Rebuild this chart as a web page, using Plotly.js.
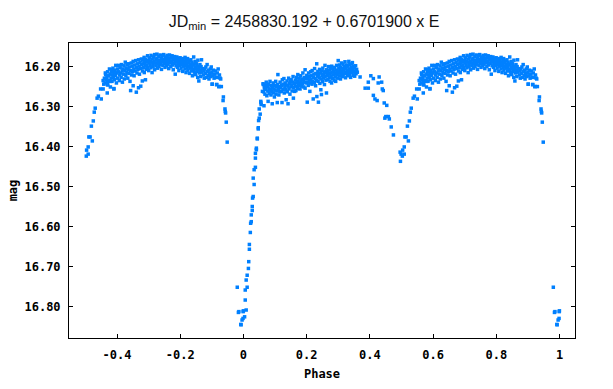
<!DOCTYPE html>
<html>
<head>
<meta charset="utf-8">
<script src="https://cdn.plot.ly/plotly-3.0.1.min.js"></script>
<style>
html,body{margin:0;padding:0;background:#fff;}
#chart{width:613px;height:389px;}
</style>
</head>
<body>
<div id="chart"></div>
<script>
// Phased observations [phase, mag], phase stored in 0..1
const primaryMin = [
[0.9804,16.751],[0.9855,16.812],[0.9840,16.814],[0.9915,16.844],[0.9925,16.845],[0.9956,16.833],[0.9986,16.829],[0.9997,16.810],[0.9990,16.812],
[0.0036,16.825],[0.0086,16.808],[0.0056,16.783],[0.0056,16.758],[0.0117,16.751],[0.0086,16.733],[0.0117,16.721],[0.0157,16.704],[0.0167,16.687],
[0.0187,16.656],[0.0187,16.644],[0.0217,16.614],[0.0227,16.591],[0.0247,16.587],[0.0247,16.570],[0.0278,16.559],[0.0278,16.549],[0.0288,16.528],
[0.0308,16.524],[0.0338,16.494],[0.0308,16.478],[0.0338,16.457],[0.0378,16.451],[0.0378,16.428],[0.0378,16.416],[0.0408,16.407],[0.0408,16.403],
[0.0438,16.380],[0.0438,16.378],[0.0469,16.355],[0.0469,16.352],[0.0479,16.334],[0.0499,16.328],[0.0529,16.318],[0.0499,16.305],[0.0559,16.294],
[0.0549,16.289],[0.0549,16.286],[0.0650,16.297],[0.0600,16.261],[0.0630,16.244],[0.0670,16.253]
];
const maxOne = [
[0.062,16.242],[0.064,16.262],[0.066,16.250],[0.068,16.268],[0.069,16.245],[0.071,16.256],[0.072,16.238],[0.074,16.272],[0.075,16.250],[0.077,16.260],
[0.078,16.249],[0.078,16.286],[0.080,16.243],[0.081,16.266],[0.083,16.255],[0.084,16.236],[0.086,16.258],[0.087,16.270],[0.089,16.247],[0.090,16.262],
[0.091,16.292],[0.092,16.252],[0.094,16.240],[0.095,16.265],[0.096,16.255],[0.098,16.275],[0.099,16.246],[0.100,16.258],[0.102,16.236],[0.103,16.268],
[0.104,16.250],[0.106,16.260],[0.107,16.289],[0.108,16.244],[0.109,16.219],[0.111,16.255],[0.112,16.270],[0.113,16.249],[0.115,16.262],[0.116,16.238],
[0.118,16.252],[0.120,16.261],[0.121,16.246],[0.122,16.289],[0.123,16.232],[0.125,16.256],[0.126,16.243],[0.128,16.229],[0.129,16.265],[0.131,16.250],
[0.132,16.240],[0.134,16.257],[0.135,16.282],[0.136,16.245],[0.138,16.235],[0.139,16.262],[0.141,16.292],[0.141,16.248],[0.143,16.228],[0.144,16.255],
[0.146,16.241],[0.147,16.268],[0.149,16.236],[0.150,16.250],[0.151,16.232],[0.153,16.246],[0.154,16.260],[0.156,16.238],[0.157,16.224],[0.158,16.278],
[0.159,16.252],[0.161,16.242],[0.162,16.261],[0.164,16.233],[0.165,16.248],[0.166,16.259],[0.168,16.226],[0.169,16.240],[0.171,16.254],[0.172,16.219],
[0.173,16.235],[0.175,16.246],[0.176,16.228],[0.178,16.241],[0.179,16.255],[0.181,16.222],[0.182,16.236],[0.184,16.248],[0.185,16.230],[0.187,16.242],
[0.188,16.215],[0.190,16.233],[0.191,16.250],[0.193,16.226],[0.194,16.238],[0.195,16.207],[0.195,16.253],[0.197,16.229],[0.199,16.240],
[0.2004,16.221],[0.2018,16.288],[0.2023,16.238],[0.2041,16.229],[0.2049,16.246],[0.2063,16.215],[0.2078,16.233],[0.2086,16.224],[0.2101,16.261],[0.2109,16.240],
[0.2127,16.212],[0.2138,16.231],[0.2146,16.222],[0.2169,16.243],[0.2174,16.209],[0.2191,16.236],[0.2207,16.280],[0.2213,16.226],[0.2229,16.218],[0.2242,16.239],
[0.2251,16.204],[0.2268,16.229],[0.2283,16.247],[0.2289,16.216],[0.2311,16.233],[0.2318,16.192],[0.2322,16.274],[0.2339,16.223],[0.2354,16.211],[0.2361,16.236],
[0.2372,16.288],[0.2379,16.219],[0.2396,16.227],[0.2408,16.206],[0.2417,16.241],[0.2433,16.215],[0.2449,16.257],[0.2452,16.230],[0.2468,16.269],[0.2471,16.210],
[0.2489,16.222],[0.2503,16.237],[0.2511,16.203],[0.2528,16.219],[0.2537,16.228],[0.2556,16.212],[0.2563,16.244],[0.2579,16.196],[0.2584,16.224],[0.2602,16.215],
[0.2613,16.233],[0.2626,16.265],[0.2631,16.207],[0.2648,16.221],[0.2659,16.213],[0.2672,16.231],[0.2687,16.199],[0.2694,16.218],[0.2713,16.227],[0.2722,16.208],
[0.2738,16.236],[0.2744,16.216],[0.2761,16.203],[0.2772,16.224],[0.2789,16.240],[0.2793,16.198],[0.2808,16.213],[0.2821,16.229],[0.2836,16.206],[0.2842,16.220],
[0.2863,16.211],[0.2868,16.233],[0.2887,16.201],[0.2896,16.217],[0.2911,16.225],[0.2918,16.236],[0.2932,16.208],[0.2947,16.196],[0.2958,16.219],[0.2971,16.212],
[0.2984,16.228],[0.2998,16.184],[0.3006,16.214],[0.3017,16.203],[0.3031,16.222],[0.3042,16.195],[0.3056,16.209],[0.3069,16.230],[0.3077,16.201],[0.3094,16.216],
[0.3103,16.190],[0.3119,16.211],[0.3128,16.224],[0.3146,16.204],[0.3152,16.193],[0.3171,16.218],[0.3183,16.207],[0.3191,16.199],[0.3208,16.214],[0.3213,16.187],
[0.3229,16.227],[0.3242,16.203],[0.3256,16.216],[0.3264,16.195],[0.3281,16.209],[0.3293,16.222],[0.3302,16.198],[0.3319,16.212],[0.3334,16.186],[0.3338,16.205],
[0.3357,16.219],[0.3364,16.194],[0.3382,16.208],[0.3391,16.226],[0.3409,16.201],[0.3418,16.214],[0.3433,16.192],[0.3447,16.189],[0.3451,16.207],[0.3469,16.221],
[0.3478,16.199],[0.3496,16.213],[0.3507,16.203],[0.3519,16.223],[0.3534,16.212],[0.3548,16.197],[0.3562,16.217],[0.3581,16.206],[0.3603,16.213]
];
const secondaryMin = [
[0.369,16.225],[0.385,16.253],[0.395,16.253],[0.395,16.238],[0.403,16.222],[0.411,16.229],[0.411,16.271],[0.416,16.280],[0.423,16.284],[0.4263,16.240],
[0.4293,16.225],[0.4373,16.238],[0.4393,16.255],[0.4423,16.259],[0.4454,16.290],[0.4534,16.296],[0.4504,16.324],[0.4584,16.324],[0.4615,16.330],[0.4474,16.328],
[0.4675,16.350],[0.4745,16.370],[0.4957,16.413],[0.4987,16.418],[0.5027,16.423],[0.4967,16.436],[0.5037,16.408],[0.5087,16.418],[0.5087,16.400],[0.5108,16.375],
[0.5148,16.375],[0.5218,16.385],[0.5188,16.348],[0.5249,16.335],[0.5279,16.313],[0.5309,16.303],[0.5369,16.278],[0.5410,16.273],[0.5500,16.280],[0.5480,16.255],
[0.5560,16.255],[0.5690,16.265],[0.5560,16.234],[0.5580,16.243],[0.5690,16.244],[0.5630,16.215],[0.5690,16.236],[0.5790,16.236],[0.5900,16.254],[0.5850,16.207],
[0.5950,16.215]
];
const maxTwo = [
[0.560,16.228],[0.562,16.240],[0.564,16.219],[0.566,16.232],[0.568,16.226],[0.570,16.212],[0.571,16.245],[0.573,16.222],[0.575,16.234],[0.576,16.205],
[0.578,16.218],[0.579,16.250],[0.581,16.228],[0.582,16.212],[0.584,16.236],[0.585,16.220],[0.587,16.203],[0.588,16.226],[0.590,16.255],[0.590,16.214],
[0.592,16.232],[0.593,16.208],[0.595,16.222],[0.596,16.196],[0.598,16.240],[0.599,16.215],[0.601,16.205],[0.602,16.228],[0.604,16.212],[0.605,16.196],
[0.607,16.234],[0.608,16.220],[0.610,16.202],[0.611,16.215],[0.613,16.226],[0.614,16.194],[0.616,16.210],[0.617,16.238],[0.619,16.205],[0.620,16.218],
[0.622,16.197],[0.623,16.230],[0.625,16.209],[0.626,16.188],[0.628,16.221],[0.629,16.203],[0.631,16.214],[0.632,16.195],[0.634,16.228],[0.635,16.206],
[0.637,16.192],[0.638,16.216],[0.640,16.200],[0.641,16.236],[0.643,16.259],[0.643,16.209],[0.645,16.190],[0.646,16.220],[0.648,16.198],[0.649,16.212],
[0.651,16.247],[0.651,16.186],[0.653,16.205],[0.654,16.222],[0.656,16.195],[0.657,16.210],[0.659,16.184],[0.661,16.263],[0.661,16.201],[0.663,16.215],
[0.664,16.192],[0.666,16.206],[0.668,16.252],[0.668,16.182],[0.670,16.198],[0.671,16.218],[0.673,16.189],[0.675,16.248],[0.675,16.204],[0.677,16.180],
[0.678,16.194],[0.680,16.235],
[0.6805,16.210],[0.6812,16.183],[0.6831,16.201],[0.6838,16.192],[0.6857,16.176],[0.6861,16.214],[0.6879,16.189],[0.6893,16.198],[0.6899,16.232],[0.6902,16.181],
[0.6924,16.206],[0.6937,16.187],[0.6941,16.195],[0.6966,16.172],[0.6973,16.201],[0.6988,16.184],[0.7003,16.209],[0.7011,16.190],[0.7019,16.177],[0.7046,16.196],
[0.7052,16.185],[0.7071,16.202],[0.7077,16.171],[0.7094,16.188],[0.7109,16.214],[0.7113,16.180],[0.7137,16.193],[0.7141,16.199],[0.7158,16.175],[0.7174,16.186],
[0.7189,16.207],[0.7192,16.169],[0.7215,16.190],[0.7228,16.182],[0.7236,16.197],[0.7259,16.178],[0.7263,16.168],[0.7281,16.203],[0.7293,16.185],[0.7306,16.191],
[0.7322,16.174],[0.7329,16.199],[0.7347,16.183],[0.7362,16.170],[0.7368,16.193],[0.7385,16.188],[0.7401,16.179],[0.7406,16.206],[0.7429,16.172],[0.7437,16.187],
[0.7450,16.196],[0.7468,16.181],[0.7474,16.169],[0.7493,16.192],[0.7505,16.184],[0.7517,16.201],[0.7532,16.175],[0.7546,16.189],[0.7551,16.180],[0.7573,16.197],
[0.7584,16.171],[0.7598,16.186],[0.7609,16.193],[0.7624,16.178],[0.7636,16.204],[0.7648,16.183],[0.7659,16.170],[0.7677,16.190],[0.7683,16.185],[0.7701,16.199],
[0.7712,16.176],[0.7729,16.188],[0.7741,16.172],[0.7752,16.195],[0.7768,16.182],[0.7779,16.207],[0.7793,16.179],[0.7805,16.191],[0.7822,16.174],[0.7834,16.186],
[0.7841,16.218],[0.7856,16.181],[0.7867,16.197],[0.7883,16.188],[0.7892,16.175],[0.7911,16.201],[0.7918,16.184],[0.7936,16.193],[0.7949,16.178],[0.7957,16.209],
[0.7972,16.186],[0.7988,16.196],[0.7996,16.177],[0.8014,16.190],[0.8027,16.203],[0.8033,16.181],[0.8055,16.194],[0.8061,16.187],[0.8079,16.211],[0.8092,16.179],
[0.8103,16.198],[0.8118,16.185],[0.8126,16.192],[0.8147,16.205],[0.8152,16.176],[0.8171,16.189],[0.8183,16.214],[0.8194,16.196],[0.8206,16.183],[0.8219,16.201],
[0.8233,16.179],[0.8241,16.208],[0.8262,16.190],[0.8268,16.198],[0.8287,16.185],[0.8295,16.216],[0.8311,16.194],[0.8323,16.203],[0.8336,16.182],[0.8349,16.199],
[0.8357,16.210],[0.8372,16.188],[0.8386,16.222],[0.8394,16.195],[0.8412,16.206],[0.8425,16.175],[0.8431,16.193],[0.8448,16.213],[0.8463,16.200],[0.8471,16.186],
[0.8489,16.219],[0.8496,16.204],[0.8513,16.192],[0.8527,16.211],[0.8538,16.198],[0.8552,16.226],[0.8559,16.183],[0.8574,16.207],[0.8588,16.235],[0.8596,16.201],
[0.8611,16.215],[0.8623,16.194],[0.8637,16.209],[0.8648,16.224],[0.8659,16.199],[0.8672,16.182],[0.8684,16.213],[0.8697,16.205],
[0.871,16.204],[0.873,16.220],[0.875,16.210],[0.876,16.228],[0.878,16.205],[0.880,16.216],[0.881,16.200],[0.883,16.226],[0.885,16.194],
[0.886,16.212],[0.888,16.222],[0.890,16.208],[0.891,16.230],[0.893,16.216],[0.895,16.205],[0.896,16.224],[0.898,16.200],[0.900,16.214],[0.901,16.243],
[0.903,16.222],[0.905,16.208],[0.907,16.228],[0.909,16.218],[0.911,16.210],[0.913,16.226],[0.915,16.244],[0.917,16.215],[0.919,16.226],[0.920,16.205],
[0.922,16.249],[0.924,16.220],[0.926,16.228],[0.928,16.230],[0.930,16.249]
];
const ingress = [
[0.9012,16.243],[0.9153,16.244],[0.9224,16.249],[0.9365,16.275],[0.9355,16.284],[0.9415,16.305],[0.9425,16.311],[0.9435,16.315],[0.9455,16.338],[0.9485,16.388]
];

const xTicks = [-0.4,-0.2,0,0.2,0.4,0.6,0.8,1];
const xTickText = ["-0.4","-0.2","0","0.2","0.4","0.6","0.8","1"];
const yTicks = [16.2,16.3,16.4,16.5,16.6,16.7,16.8];
const yTickText = ["16.20","16.30","16.40","16.50","16.60","16.70","16.80"];

const all = [].concat(primaryMin, maxOne, secondaryMin, maxTwo, ingress);
const xs = [], ys = [];
all.forEach(function(p){ xs.push(p[0]); ys.push(p[1]); });
all.forEach(function(p){ if (p[0] >= 0.5) { xs.push(p[0]-1); ys.push(p[1]); } });

const monoFont = {family:'"DejaVu Sans Mono", monospace', size:12, color:'#000', weight:'bold'};

Plotly.newPlot('chart', [{
  x: xs, y: ys, type:'scatter', mode:'markers',
  marker:{symbol:'square', size:3.5, color:'#0080ff', line:{width:0}},
  hoverinfo:'skip'
}], {
  width:613, height:389,
  margin:{l:69, r:38, t:43, b:51, pad:0},
  paper_bgcolor:'#fff', plot_bgcolor:'#fff',
  showlegend:false,
  title:{text:'JD<sub>min</sub> = 2458830.192 + 0.6701900 x E',
    font:{family:'"Liberation Sans", Arial, sans-serif', size:16, color:'#111'},
    xref:'container', yref:'container', x:0.496, xanchor:'center', y:0.945, yanchor:'middle'},
  xaxis:{range:[-0.552,1.049], tickmode:'array', tickvals:xTicks, ticktext:xTickText,
    ticks:'inside', ticklen:4, tickwidth:1, tickcolor:'#000', mirror:'ticks',
    showline:true, linecolor:'#000', linewidth:1, showgrid:false, zeroline:false,
    tickfont:monoFont, ticklabelstandoff:6,
    title:{text:'Phase', font:monoFont, standoff:8}},
  yaxis:{range:[16.878,16.140], tickmode:'array', tickvals:yTicks, ticktext:yTickText,
    ticks:'inside', ticklen:4, tickwidth:1, tickcolor:'#000', mirror:'ticks',
    showline:true, linecolor:'#000', linewidth:1, showgrid:false, zeroline:false,
    tickfont:monoFont, ticklabelstandoff:5,
    title:{text:'mag', font:monoFont, standoff:4}}
}, {displayModeBar:false, staticPlot:true});
</script>
</body>
</html>
